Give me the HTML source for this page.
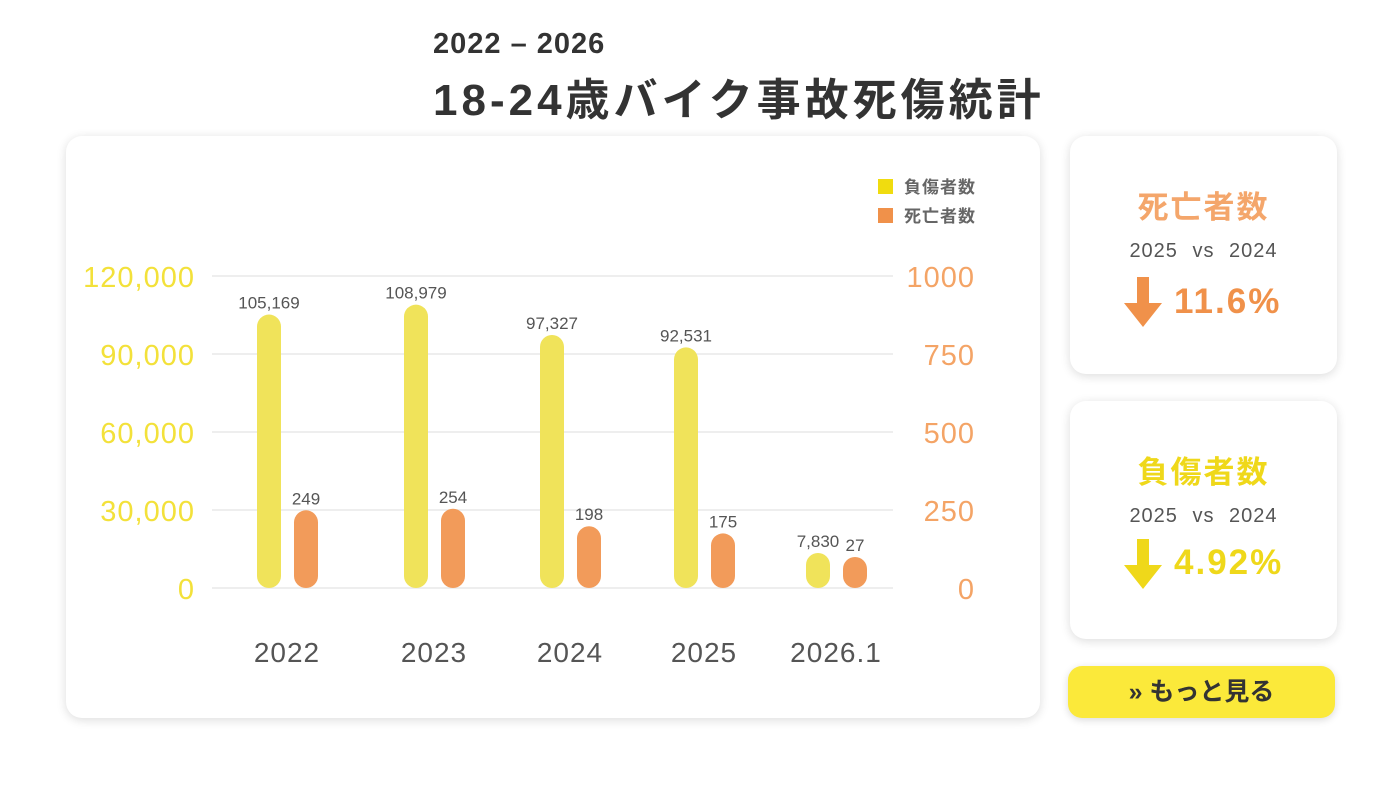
<!DOCTYPE html>
<html><head><meta charset="utf-8"><style>
body{margin:0;width:1400px;height:790px;background:#fff;font-family:"Liberation Sans","Noto Sans CJK JP",sans-serif;position:relative;overflow:hidden}
.card{position:absolute;background:#fff;border-radius:16px;box-shadow:0 2px 10px rgba(0,0,0,.14)}
.t{position:absolute;white-space:nowrap}
</style></head><body>
<div class="t" style="left:433px;top:28px;font-size:29px;font-weight:bold;color:#333;letter-spacing:1px">2022 – 2026</div>
<div class="t" style="left:433px;top:64px;font-size:44px;font-weight:bold;color:#333;letter-spacing:4px">18-24歳バイク事故死傷統計</div>
<div class="card" style="left:66px;top:136px;width:974px;height:582px"></div>
<svg id="chart" width="1400" height="790" style="position:absolute;left:0;top:0"></svg>
<div class="card" style="left:1070px;top:136px;width:267px;height:238px">
<div class="t" style="left:0;width:267px;text-align:center;top:46px;font-size:31px;font-weight:bold;color:#f4a66b;letter-spacing:2px">死亡者数</div>
<div class="t" style="left:0;width:267px;text-align:center;top:104px;font-size:20px;color:#555;word-spacing:8px;letter-spacing:1px">2025 vs 2024</div>
<svg style="position:absolute;left:54px;top:141px" width="40" height="50"><path d="M13 0h12v26h13L19 50 0 26h13z" fill="#f0914a"/></svg>
<div class="t" style="left:104px;top:146px;font-size:35px;font-weight:bold;color:#f0914a;letter-spacing:2px">11.6%</div>
</div>
<div class="card" style="left:1070px;top:401px;width:267px;height:238px">
<div class="t" style="left:0;width:267px;text-align:center;top:46px;font-size:31px;font-weight:bold;color:#efd81a;letter-spacing:2px">負傷者数</div>
<div class="t" style="left:0;width:267px;text-align:center;top:104px;font-size:20px;color:#555;word-spacing:8px;letter-spacing:1px">2025 vs 2024</div>
<svg style="position:absolute;left:54px;top:138px" width="40" height="50"><path d="M13 0h12v26h13L19 50 0 26h13z" fill="#efd81a"/></svg>
<div class="t" style="left:104px;top:142px;font-size:35px;font-weight:bold;color:#efd81a;letter-spacing:2px">4.92%</div>
</div>
<div style="position:absolute;left:1068px;top:666px;width:267px;height:52px;border-radius:14px;background:#fbe93a;box-shadow:0 2px 8px rgba(0,0,0,.15);font-size:25px;font-weight:bold;color:#333;line-height:52px;text-align:center">» もっと見る</div>
<script>
const categories=["2022","2023","2024","2025","2026.1"];
const injuries=[105169,108979,97327,92531,7830];
const deaths=[249,254,198,175,27];
const leftTicks=[0,30000,60000,90000,120000];
const rightTicks=[0,250,500,750,1000];
const catCenters=[287,434,570,704,836];
const svg=document.getElementById('chart');const NS='http://www.w3.org/2000/svg';
const y0=588,y1=276;
const yL=v=>y0-v/120000*(y0-y1);
const yR=v=>y0-v/1000*(y0-y1);
function mk(tag,a,txt){const e=document.createElementNS(NS,tag);for(const k in a)e.setAttribute(k,a[k]);if(txt!=null)e.textContent=txt;svg.appendChild(e);return e;}
leftTicks.forEach((t,i)=>{
 const g=mk('line',{x1:212,x2:893,y1:yL(t),y2:yL(t),stroke:'#e8e8e8','stroke-width':1.5});
 
 
 const l=mk('text',{x:195,y:yL(t)+11,'text-anchor':'end','font-size':29,fill:'#f3e13a','letter-spacing':1},t.toLocaleString('en-US'));
 
 
 const r=mk('text',{x:975,y:yR(rightTicks[i])+11,'text-anchor':'end','font-size':29,fill:'#f4a466','letter-spacing':1},String(rightTicks[i]));
 
 
});
categories.forEach((c,i)=>{
 const cx=catCenters[i];
 const yt=Math.min(yL(injuries[i]),y0-35);
 const b=mk('rect',{x:cx-30,y:yt,width:24,height:y0-yt,rx:12,fill:'#f0e35a'});
 
 
 const ot=Math.min(yR(deaths[i]),y0-31);
 const o=mk('rect',{x:cx+7,y:ot,width:24,height:y0-ot,rx:12,fill:'#f29b5a'});
 
 
 const v=mk('text',{x:cx-18,y:yt-6,'text-anchor':'middle','font-size':17,fill:'#555'},injuries[i].toLocaleString('en-US'));
 
 
 const d=mk('text',{x:cx+19,y:ot-6,'text-anchor':'middle','font-size':17,fill:'#555'},String(deaths[i]));
 
 
 const x=mk('text',{x:cx,y:662,'text-anchor':'middle','font-size':28,fill:'#555','letter-spacing':1},c);
 
 
});
const l1=mk('rect',{x:878,y:179,width:15,height:15,fill:'#f0dc0f'});


const l2=mk('rect',{x:878,y:208,width:15,height:15,fill:'#f0914a'});


const t1=mk('text',{x:904,y:193,'font-size':17,'font-weight':'bold',fill:'#666','letter-spacing':1},'負傷者数');


const t2=mk('text',{x:904,y:222,'font-size':17,'font-weight':'bold',fill:'#666','letter-spacing':1},'死亡者数');


</script>
</body></html>
